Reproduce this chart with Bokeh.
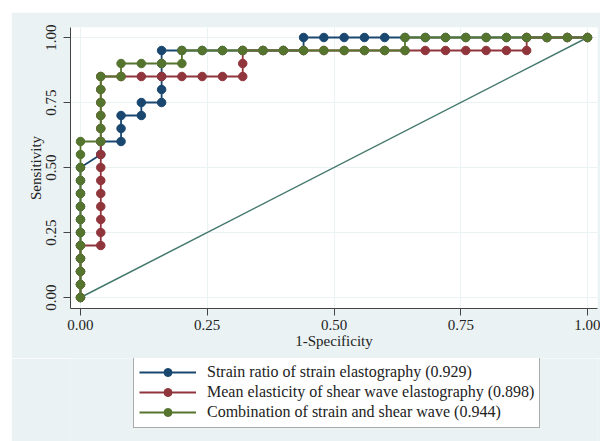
from bokeh.plotting import figure
from bokeh.models import Legend, LegendItem, Range1d, FixedTicker, Spacer
from bokeh.layouts import column, row
from bokeh.embed import file_html
from bokeh.resources import INLINE

# ---- data ----
blue_x = [0, 0, 0, 0, 0, 0, 0, 0, 0, 0, 0,
          0.04, 0.04, 0.08, 0.08, 0.08, 0.12, 0.12,
          0.16, 0.16, 0.16, 0.16, 0.16,
          0.20, 0.24, 0.28, 0.32, 0.36, 0.40, 0.44,
          0.44, 0.48, 0.52, 0.56, 0.60, 0.64, 0.68, 0.72, 0.76, 0.80, 0.84, 0.88, 0.92, 0.96, 1.00]
blue_y = [0, 0.05, 0.10, 0.15, 0.20, 0.25, 0.30, 0.35, 0.40, 0.45, 0.50,
          0.55, 0.60, 0.60, 0.65, 0.70, 0.70, 0.75,
          0.75, 0.80, 0.85, 0.90, 0.95,
          0.95, 0.95, 0.95, 0.95, 0.95, 0.95, 0.95,
          1.00, 1.00, 1.00, 1.00, 1.00, 1.00, 1.00, 1.00, 1.00, 1.00, 1.00, 1.00, 1.00, 1.00, 1.00]

red_x = [0, 0, 0, 0, 0,
         0.04, 0.04, 0.04, 0.04, 0.04, 0.04, 0.04, 0.04, 0.04, 0.04, 0.04, 0.04, 0.04, 0.04,
         0.08, 0.12, 0.16, 0.20, 0.24, 0.28, 0.32,
         0.32, 0.32,
         0.36, 0.40, 0.44, 0.48, 0.52, 0.56, 0.60, 0.64, 0.68, 0.72, 0.76, 0.80, 0.84, 0.88,
         0.88, 0.92, 0.96, 1.00]
red_y = [0, 0.05, 0.10, 0.15, 0.20,
         0.20, 0.25, 0.30, 0.35, 0.40, 0.45, 0.50, 0.55, 0.60, 0.65, 0.70, 0.75, 0.80, 0.85,
         0.85, 0.85, 0.85, 0.85, 0.85, 0.85, 0.85,
         0.90, 0.95,
         0.95, 0.95, 0.95, 0.95, 0.95, 0.95, 0.95, 0.95, 0.95, 0.95, 0.95, 0.95, 0.95, 0.95,
         1.00, 1.00, 1.00, 1.00]

green_x = [0, 0, 0, 0, 0, 0, 0, 0, 0, 0, 0, 0, 0,
           0.04, 0.04, 0.04, 0.04, 0.04, 0.04,
           0.08, 0.08, 0.12, 0.16, 0.20, 0.20,
           0.24, 0.28, 0.32, 0.36, 0.40, 0.44, 0.48, 0.52, 0.56, 0.60, 0.64,
           0.64, 0.68, 0.72, 0.76, 0.80, 0.84, 0.88, 0.92, 0.96, 1.00]
green_y = [0, 0.05, 0.10, 0.15, 0.20, 0.25, 0.30, 0.35, 0.40, 0.45, 0.50, 0.55, 0.60,
           0.60, 0.65, 0.70, 0.75, 0.80, 0.85,
           0.85, 0.90, 0.90, 0.90, 0.90, 0.95,
           0.95, 0.95, 0.95, 0.95, 0.95, 0.95, 0.95, 0.95, 0.95, 0.95, 0.95,
           1.00, 1.00, 1.00, 1.00, 1.00, 1.00, 1.00, 1.00, 1.00, 1.00]

ref_x = [0, 1]
ref_y = [0, 1]

labels = ["Strain ratio of strain elastography (0.929)",
          "Mean elasticity of shear wave elastography (0.898)",
          "Combination of strain and shear wave (0.944)"]
ticks = [0, 0.25, 0.5, 0.75, 1.0]
tick_labels = {0: "0.00", 0.25: "0.25", 0.5: "0.50", 0.75: "0.75", 1: "1.00"}

colors = ["#1a476f", "#90353b", "#55752f"]
bg = "#eaf2f3"
font = "Liberation Serif"

p = figure(width=589, height=346, output_backend="svg", toolbar_location=None,
           x_range=Range1d(-0.0197, 1.0197), y_range=Range1d(-0.0423, 1.0385),
           min_border_left=59, min_border_right=3, min_border_top=15, min_border_bottom=50)
p.border_fill_color = bg
p.background_fill_color = "white"
p.outline_line_color = None

for ax in (p.xaxis[0], p.yaxis[0]):
    ax.ticker = FixedTicker(ticks=ticks)
    ax.major_label_overrides = tick_labels
    ax.major_label_text_font = font
    ax.major_label_text_font_size = "15px"
    ax.major_label_text_color = "#222222"
    ax.axis_label_text_font = font
    ax.axis_label_text_font_size = "15px"
    ax.axis_label_text_font_style = "normal"
    ax.axis_label_text_color = "#222222"
    ax.axis_line_color = "#444444"
    ax.major_tick_line_color = "#444444"
    ax.major_tick_out = 7
    ax.major_tick_in = 0
    ax.minor_tick_line_color = None

p.xaxis.axis_label = "1-Specificity"
p.yaxis.axis_label = "Sensitivity"
p.yaxis.major_label_orientation = "vertical"
p.xaxis.major_label_standoff = 4
p.xaxis.axis_label_standoff = 0
p.yaxis.major_label_standoff = 7
p.yaxis.axis_label_standoff = 0

p.xgrid.ticker = FixedTicker(ticks=ticks)
p.ygrid.ticker = FixedTicker(ticks=ticks)
p.grid.grid_line_color = bg
p.grid.grid_line_width = 1

p.line(ref_x, ref_y, line_color="#44786c", line_width=1.5)

# legend lives in its own small figure (no axes) below the chart
lf = figure(width=589, height=83, output_backend="svg", toolbar_location=None,
            x_range=Range1d(10, 11), y_range=Range1d(10, 11),
            x_axis_location=None, y_axis_location=None,
            min_border_left=0, min_border_right=0, min_border_top=0, min_border_bottom=0)
lf.grid.visible = False
lf.outline_line_color = None
lf.background_fill_color = bg
lf.border_fill_color = bg

items = []
for xs, ys, c, lab in [(blue_x, blue_y, colors[0], labels[0]),
                       (red_x, red_y, colors[1], labels[1]),
                       (green_x, green_y, colors[2], labels[2])]:
    p.line(xs, ys, line_color=c, line_width=1.8)
    p.scatter(xs, ys, size=8.5, fill_color=c, line_color=c)
    # same series in the legend figure, outside its visible range
    l = lf.line(xs, ys, line_color=c, line_width=1.8)
    s = lf.scatter(xs, ys, size=8.5, fill_color=c, line_color=c)
    items.append(LegendItem(label=lab, renderers=[l, s]))

legend = Legend(items=items, location=(63, 13))
legend.label_text_font = font
legend.label_text_font_size = "16px"
legend.label_text_color = "#222222"
legend.label_height = 20
legend.glyph_height = 20
legend.glyph_width = 57
legend.label_standoff = 11
legend.spacing = 0
legend.padding = 5
legend.margin = 0
legend.border_line_color = "#555555"
legend.border_line_width = 1
legend.background_fill_color = "white"
legend.background_fill_alpha = 1
lf.add_layout(legend)

layout = column(Spacer(height=12, width=600),
                row(Spacer(width=11, height=429), column(p, lf)))
open("out.html", "w").write(file_html(layout, INLINE))
